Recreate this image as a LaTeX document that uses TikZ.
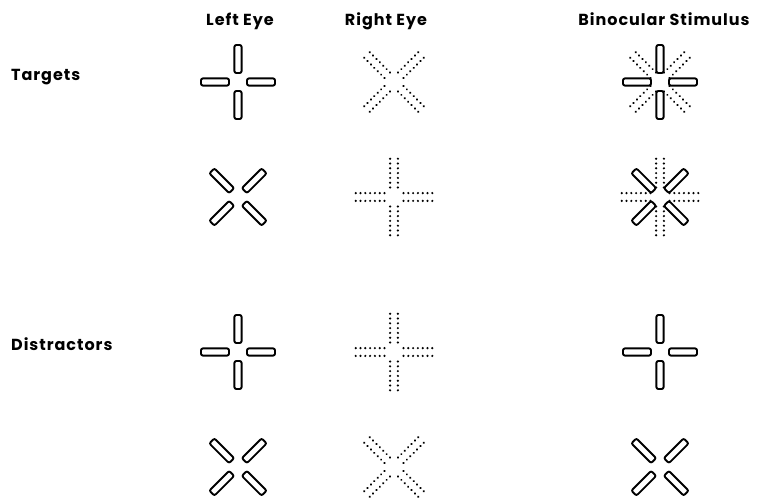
\documentclass[tikz,border=0pt]{standalone}
\usepackage{fontspec}
\newfontfamily\labfont{Poppins}[LetterSpace=6]
\begin{document}
\begin{tikzpicture}[x=1pt,y=-1pt,
  barline/.style={line width=1.9pt, rounded corners=2pt},
  lab/.style={font=\labfont\bfseries\fontsize{16}{20}\selectfont, inner sep=0pt},
  solidplus/.pic={\foreach \a in {0,90,180,270}{\draw[barline,rotate=\a] (9,-3.6) rectangle (37,3.6);}},
  solidx/.pic={\foreach \a in {45,135,225,315}{\draw[barline,rotate=\a] (9,-3.6) rectangle (37,3.6);}},
  dotplus/.pic={\foreach \a in {0,90,180,270}{\foreach \i in {0,...,6}{%
     \fill[rotate=\a] (9.5+\i*4.8,-3.9) circle (1.2pt);
     \fill[rotate=\a] (9.5+\i*4.8,3.9) circle (1.2pt);}}},
  dotx/.pic={\foreach \a in {45,135,225,315}{\foreach \i in {0,...,6}{%
     \fill[rotate=\a] (9.5+\i*4.8,-3.9) circle (1.2pt);
     \fill[rotate=\a] (9.5+\i*4.8,3.9) circle (1.2pt);}}}
]
\useasboundingbox (0,0) rectangle (764,498);
% headers
\node[lab, anchor=base] (hl) at (240,25) {Left Eye};
\node[lab, anchor=base] (hr) at (386,25) {Right Eye};
\node[lab, anchor=base] (hb) at (664,25) {Binocular Stimulus};
% row labels
\node[lab, anchor=base west] (lt) at (11,80) {Targets};
\node[lab, anchor=base west] (ld) at (11,350) {Distractors};
% row 1
\pic (a1) at (238,82) {solidplus};
\pic (b1) at (394,82) {dotx};
\pic (c1) at (660,82) {solidplus};
\pic (c1d) at (660,82) {dotx};
% row 2
\pic (a2) at (238,197) {solidx};
\pic (b2) at (394,197) {dotplus};
\pic (c2) at (660,197) {solidx};
\pic (c2d) at (660,197) {dotplus};
% row 3
\pic (a3) at (238,352) {solidplus};
\pic (b3) at (394,352) {dotplus};
\pic (c3) at (660,352) {solidplus};
% row 4
\pic (a4) at (238,467) {solidx};
\pic (b4) at (394,467) {dotx};
\pic (c4) at (660,467) {solidx};
\end{tikzpicture}
\end{document}
